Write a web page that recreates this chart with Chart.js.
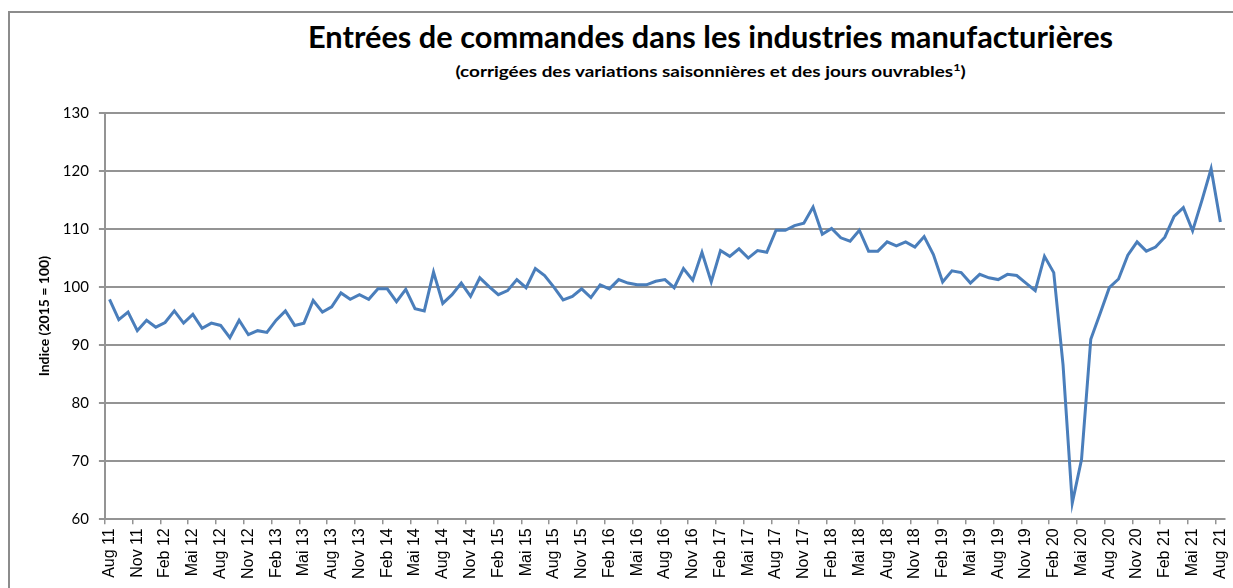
<!DOCTYPE html>
<html>
<head>
<meta charset="utf-8">
<title>Entrées de commandes</title>
<script src="https://cdn.jsdelivr.net/npm/chart.js@4"></script>
<style>
  body { margin: 0; background: #fff; }
  #wrap { position: relative; width: 1233px; height: 588px; overflow: hidden; }
  #frame { position: absolute; left: 8px; top: 11px; width: 1400px; height: 700px; border: 2px solid #8c8c8c; }
  .ttl { position: absolute; white-space: nowrap; font-family: Lato, "Liberation Sans", sans-serif; font-weight: bold; color: #000; transform-origin: center center; }
  #title { top: 17px; font-size: 31px; }
  #subtitle { top: 61px; font-size: 15px; }
  canvas { position: absolute; left: 0; top: 0; }
</style>
</head>
<body>
<div id="wrap">
  <div id="frame"></div>
  <span class="ttl" id="title">Entrées de commandes dans les industries manufacturières</span>
  <span class="ttl" id="subtitle">(corrigées des variations saisonnières et des jours ouvrables<sup style="font-size:10px">1</sup>)</span>
  <canvas id="chart" width="1233" height="588"></canvas>
</div>
<script>
// mois (abréviations comme dans l'original)
const monthNames = ["Jan", "Feb", "Mar", "Apr", "Mai", "Jun", "Jul", "Aug", "Sep", "Okt", "Nov", "Dez"];
const startYear = 11;   // Aug 11
const startMonth = 7;
const nbMonths = 121;   // jusqu'à Aug 21

const categories = [];
for (let i = 0; i < nbMonths; i++) {
  const m = (startMonth + i) % 12;
  const y = startYear + Math.floor((startMonth + i) / 12);
  categories.push(monthNames[m] + " " + y);
}

// indice (2015 = 100)
const indexValues = [
  97.9, 94.4, 95.7, 92.5, 94.3, 93.1, 93.9, 95.9, 93.8, 95.3,
  92.9, 93.8, 93.4, 91.3, 94.3, 91.8, 92.5, 92.2, 94.3, 95.9,
  93.4, 93.8, 97.7, 95.7, 96.6, 99.0, 97.9, 98.7, 97.9, 99.7,
  99.7, 97.5, 99.6, 96.3, 95.9, 102.6, 97.2, 98.7, 100.7, 98.4,
  101.6, 100.1, 98.7, 99.4, 101.3, 99.9, 103.2, 102.0, 100.0, 97.8,
  98.4, 99.7, 98.2, 100.4, 99.7, 101.3, 100.7, 100.4, 100.4, 101.0,
  101.3, 99.9, 103.2, 101.2, 106.0, 100.9, 106.3, 105.3, 106.6, 105.0,
  106.3, 106.0, 109.8, 109.8, 110.6, 111.0, 113.8, 109.1, 110.1, 108.5,
  107.9, 109.8, 106.2, 106.2, 107.8, 107.1, 107.8, 106.9, 108.7, 105.6,
  100.9, 102.8, 102.5, 100.7, 102.2, 101.6, 101.3, 102.2, 102.0, 100.7,
  99.4, 105.3, 102.5, 86.7, 62.8, 70.3, 91.0, 95.4, 99.9, 101.4,
  105.5, 107.8, 106.2, 106.9, 108.6, 112.2, 113.7, 109.7, 114.9, 120.4,
  111.2
];

const yTicks = [60, 70, 80, 90, 100, 110, 120, 130];
const labelEvery = 3;

// titres : largeur ajustée sur l'original
function fitText(id, width, centerX) {
  const el = document.getElementById(id);
  const w = el.offsetWidth;
  el.style.left = (centerX - w / 2) + "px";
  el.style.transform = "scaleX(" + (width / w) + ")";
}
fitText("title", 805, 710);
fitText("subtitle", 510, 710);

const gridGray = "#949494";

new Chart(document.getElementById("chart"), {
  type: "line",
  data: {
    labels: categories,
    datasets: [{
      data: indexValues,
      borderColor: "#4a7ebb",
      borderWidth: 3,
      pointRadius: 0,
      tension: 0,
      fill: false
    }]
  },
  options: {
    responsive: false,
    animation: false,
    devicePixelRatio: 1,
    layout: { padding: { left: 36, right: 8, top: 113, bottom: 5 } },
    plugins: {
      legend: { display: false },
      tooltip: { enabled: false }
    },
    scales: {
      x: {
        type: "category",
        offset: true,
        // les étiquettes verticales ne doivent pas réduire la zone de tracé
        afterFit: (scale) => { scale.paddingLeft = 0; scale.paddingRight = 0; },
        border: { display: true, color: gridGray, width: 2 },
        grid: {
          offset: true,
          drawOnChartArea: false,
          drawTicks: true,
          tickLength: 5,
          lineWidth: 1.5,
          color: (ctx) => (ctx.index % labelEvery === 0 ? gridGray : "rgba(0,0,0,0)")
        },
        ticks: {
          autoSkip: false,
          minRotation: 90,
          maxRotation: 90,
          padding: 4,
          color: "#000",
          font: { family: "Liberation Sans", size: 16 },
          callback: (value, i) => (i % labelEvery === 0 ? categories[i] : "")
        }
      },
      y: {
        min: 60,
        max: 130,
        afterBuildTicks: (scale) => { scale.ticks = yTicks.map((v) => ({ value: v })); },
        border: { display: true, color: gridGray, width: 2 },
        grid: { color: gridGray, lineWidth: 2, tickLength: 6 },
        ticks: {
          padding: 10,
          color: "#000",
          font: { family: "Lato", size: 15 }
        },
        title: {
          display: true,
          text: "Indice (2015 = 100)",
          color: "#000",
          padding: { top: 0, bottom: 0 },
          font: { family: "Lato", size: 14, weight: "bold" }
        }
      }
    }
  }
});
</script>
</body>
</html>
